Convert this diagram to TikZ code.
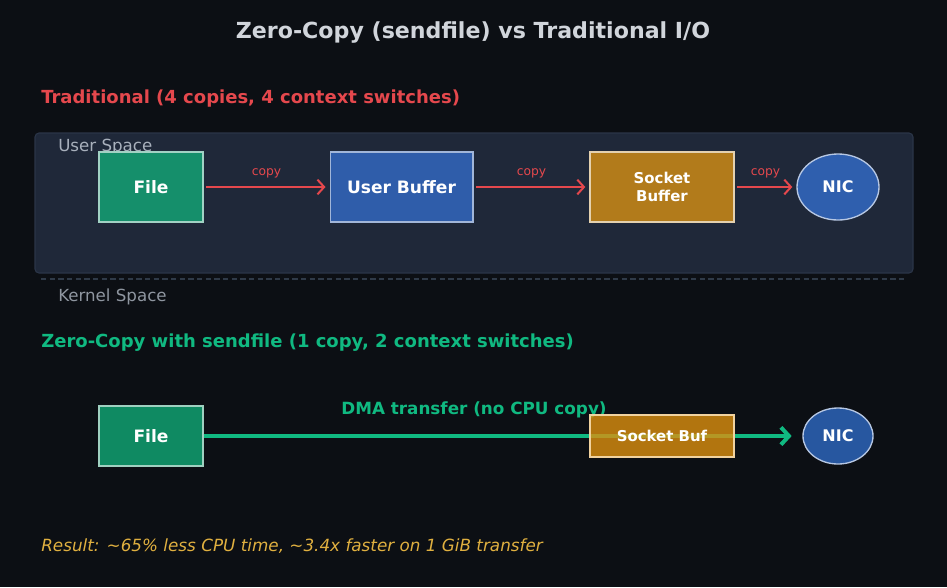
\documentclass[tikz,border=0pt]{standalone}
\usepackage{fontspec}
\setmainfont{DejaVu Sans}
\usetikzlibrary{arrows.meta,shapes.geometric}

\definecolor{bgdark}{HTML}{0C0F14}
\definecolor{titlegray}{HTML}{D1D5DB}
\definecolor{tradred}{HTML}{E5484D}
\definecolor{zerogreen}{HTML}{10B981}
\definecolor{resultgold}{HTML}{E0B040}
\definecolor{panelfill}{HTML}{1F2839}
\definecolor{paneledge}{HTML}{2B3548}
\definecolor{spacegray}{HTML}{A8B0BC}
\definecolor{dashgray}{HTML}{2F3A48}
\definecolor{filegreen}{HTML}{158F6B}
\definecolor{filegreenb}{HTML}{0F8A62}
\definecolor{bufblue}{HTML}{2F5DAA}
\definecolor{sockgold}{HTML}{B27B1B}
\definecolor{sockgoldb}{HTML}{DC8F0E}
\definecolor{nicblue}{HTML}{2F5FAE}
\definecolor{nicblueb}{HTML}{2757A0}

\begin{document}
\begin{tikzpicture}[x=0.75pt,y=-0.75pt]
% ----- rows (y) -----
\def\yTrad{187}
\def\yZero{436}

% styles
\tikzset{
  heading/.style={anchor=west,inner sep=0pt,font=\bfseries\fontsize{13.5}{16}\selectfont},
  spacelbl/.style={anchor=west,inner sep=0pt,text=spacegray,font=\fontsize{12.5}{15}\selectfont},
  boxnode/.style={draw,line width=1pt,inner sep=0pt,text=white,align=center,
    font=\bfseries\fontsize{12.8}{15}\selectfont},
  nicnode/.style={ellipse,draw=white!65!nicblue,line width=1pt,inner sep=0pt,text=white,
    font=\bfseries\fontsize{12}{14}\selectfont},
  copyarr/.style={draw=tradred,line width=1.5pt,-{Straight Barb[length=5pt,width=11pt,line width=1.5pt]},
    shorten <=2pt,shorten >=3pt},
  copylbl/.style={above=6pt,inner sep=0pt,text=tradred,font=\fontsize{9.2}{11}\selectfont},
  dmaarr/.style={draw=zerogreen,line width=3pt,-{Straight Barb[length=6pt,width=13pt,line width=3pt]},
    shorten >=8pt}
}

% ----- background -----
\fill[bgdark] (0,0) rectangle (947,587);
\useasboundingbox (0,0) rectangle (947,587);

\node[text=titlegray,font=\bfseries\fontsize{16.6}{20}\selectfont] (title) at (473,32)
  {Zero-Copy (sendfile) vs Traditional I/O};

% ===== traditional path =====
\node[heading,text=tradred] (tradHead) at (41,99) {Traditional (4 copies, 4 context switches)};

\draw[fill=panelfill,draw=paneledge,line width=0.8pt,rounded corners=3pt] (35,133) rectangle (913,273);
\draw[dashgray,line width=0.8pt,dash pattern=on 4pt off 2.5pt] (41,279) -- (905,279);
\node[spacelbl] (userLbl) at (58,147) {User Space};
\node[spacelbl,text=spacegray!85!black] (kernLbl) at (58,297) {Kernel Space};

\node[boxnode,fill=filegreen,draw=white!60!filegreen,minimum width=78pt,minimum height=52.5pt]
  (fileT) at (151,\yTrad) {File};
\node[boxnode,fill=bufblue,draw=white!55!bufblue,minimum width=107pt,minimum height=52.5pt]
  (userBuf) at (401.5,\yTrad) {User Buffer};
\node[boxnode,fill=sockgold,draw=white!65!sockgold,minimum width=108pt,minimum height=52.5pt,
  font=\bfseries\fontsize{11.2}{13}\selectfont]
  (sockBuf) at (662,\yTrad) {Socket\\Buffer};
\node[nicnode,fill=nicblue,minimum width=61.5pt,minimum height=49.5pt] (nicT) at (838,\yTrad) {NIC};

\draw[copyarr] (fileT) -- node[copylbl]{copy} (userBuf);
\draw[copyarr] (userBuf) -- node[copylbl]{copy} (sockBuf);
\draw[copyarr] (sockBuf) -- node[copylbl]{copy} (nicT);

% ===== zero-copy path =====
\node[heading,text=zerogreen] (zeroHead) at (41,343) {Zero-Copy with sendfile (1 copy, 2 context switches)};

\node[boxnode,fill=filegreenb,draw=white!60!filegreenb,minimum width=78pt,minimum height=45pt]
  (fileZ) at (151,\yZero) {File};
\node[nicnode,fill=nicblueb,minimum width=52.5pt,minimum height=42pt] (nicZ) at (838,\yZero) {NIC};

\draw[dmaarr] (fileZ) -- (nicZ);
\node[text=zerogreen,inner sep=0pt,font=\bfseries\fontsize{12.6}{15}\selectfont] (dmaLbl) at (474,410)
  {DMA transfer (no CPU copy)};

\node[boxnode,fill=sockgoldb,fill opacity=0.8,text opacity=1,draw=white!60!sockgoldb,
  minimum width=108pt,minimum height=31.5pt,font=\bfseries\fontsize{11.2}{13}\selectfont]
  (sockZ) at (662,\yZero) {Socket Buf};

% ----- result -----
\node[anchor=west,inner sep=0pt,text=resultgold,font=\itshape\fontsize{12.6}{15}\selectfont] (result) at (41,546)
  {Result: \textasciitilde65\% less CPU time, \textasciitilde3.4x faster on 1 GiB transfer};
\end{tikzpicture}
\end{document}
